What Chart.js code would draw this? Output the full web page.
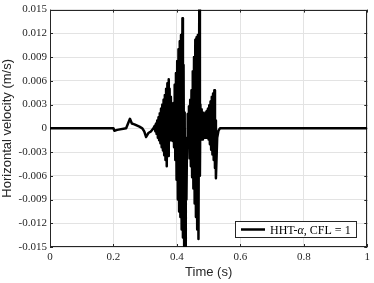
<!DOCTYPE html>
<html>
<head>
<meta charset="utf-8">
<script src="https://cdn.jsdelivr.net/npm/chart.js@4"></script>
<style>
  html, body { margin: 0; padding: 0; background: #fff; }
  #chart { display: block; }
</style>
</head>
<body>
<canvas id="chart" width="374" height="283"></canvas>
<script>
// Data (time in s, velocity in m/s)
const time = [
  0, 0.200, 0.203, 0.212, 0.240, 0.252, 0.258, 0.266, 0.282, 0.291, 0.297, 0.303, 0.310, 0.318, 0.326,
  0.330, 0.332, 0.334, 0.336, 0.338, 0.340, 0.342, 0.344, 0.346, 0.348, 0.350, 0.352, 0.354, 0.356, 0.358,
  0.360, 0.362, 0.364, 0.366, 0.368, 0.370, 0.372, 0.3735, 0.375, 0.377, 0.379, 0.381, 0.383, 0.385, 0.387,
  0.389, 0.391, 0.393, 0.395, 0.397, 0.399, 0.401, 0.403, 0.405, 0.407, 0.409, 0.411, 0.413, 0.415, 0.4175,
  0.419, 0.421, 0.423, 0.4245, 0.426, 0.428, 0.430,
  0.432, 0.434, 0.436, 0.438, 0.440, 0.442, 0.444, 0.446, 0.448, 0.450, 0.452, 0.454, 0.456, 0.458, 0.460,
  0.462, 0.464, 0.466, 0.468, 0.4705, 0.4725, 0.474,
  0.476, 0.478, 0.480, 0.482, 0.484, 0.486, 0.488, 0.490, 0.492, 0.494, 0.496, 0.498, 0.500, 0.502, 0.504,
  0.506, 0.508, 0.510, 0.512, 0.514, 0.516, 0.518, 0.520, 0.5215, 0.523, 0.527, 0.531, 0.536, 1.0
];
const velocity = [
  0, 0, -0.0003, -0.0002, 0, 0.0012, 0.0006, 0.0005, 0.0002, 0, -0.0004, -0.0011, -0.0006, -0.0004, 0,
  0.0003, -0.0004, 0.0006, -0.0007, 0.0010, -0.0012, 0.0014, -0.0015, 0.0019, -0.0019, 0.0025, -0.0024, 0.0030, -0.0028, 0.0036,
  -0.0034, 0.0042, -0.0040, 0.0050, -0.0048, 0.0057, -0.0035, 0.0062, -0.0025, 0.0050, -0.0015, 0.0040, -0.0012, 0.0024, -0.0016,
  0.0032, -0.0024, 0.0055, -0.0040, 0.0070, -0.0065, 0.0085, -0.0090, 0.0100, -0.0105, 0.0110, -0.0112, 0.0118, -0.0128, 0.0139,
  -0.0138, 0.0080, -0.0155, 0.0020, -0.0170, -0.0030, -0.0090,
  -0.0012, 0.0018, -0.0020, 0.0028, -0.0038, 0.0036, -0.0048, 0.0048, -0.0062, 0.0072, -0.0076, 0.0090, -0.0095, 0.0112, -0.0112,
  0.0115, -0.0128, 0.0118, -0.0140, 0.0152, -0.0060, 0.0030,
  -0.0012, 0.0024, -0.0014, 0.0020, -0.0012, 0.0018, -0.0012, 0.0020, -0.0012, 0.0022, -0.0012, 0.0025, -0.0014, 0.0029, -0.0020,
  0.0034, -0.0027, 0.0040, -0.0033, 0.0044, -0.0040, 0.0048, -0.0050, 0.0010, -0.0063, -0.0012, -0.0003, 0, 0
];

const xTicks = [0, 0.2, 0.4, 0.6, 0.8, 1];
const xTickLabels = ['0', '0.2', '0.4', '0.6', '0.8', '1'];
const yTicks = [-0.015, -0.012, -0.009, -0.006, -0.003, 0, 0.003, 0.006, 0.009, 0.012, 0.015];
const yTickLabels = ['-0.015', '-0.012', '-0.009', '-0.006', '-0.003', '0', '0.003', '0.006', '0.009', '0.012', '0.015'];
const seriesLabel = 'HHT-α, CFL = 1';

const AXIS_COLOR = '#262626';
const GRID_COLOR = '#e3e3e3';

// Box around plot, inward tick marks and the boxed legend in the lower right
const framePlugin = {
  id: 'frame',
  beforeDatasetsDraw(chart) {
    const { ctx, chartArea: a, scales } = chart;
    ctx.save();
    ctx.strokeStyle = AXIS_COLOR;
    ctx.lineWidth = 1;
    ctx.beginPath();
    scales.x.ticks.forEach(t => {
      const px = Math.round(scales.x.getPixelForValue(t.value)) + 0.5;
      ctx.moveTo(px, a.bottom); ctx.lineTo(px, a.bottom - 3);
      ctx.moveTo(px, a.top); ctx.lineTo(px, a.top + 3);
    });
    scales.y.ticks.forEach(t => {
      const py = Math.round(scales.y.getPixelForValue(t.value)) + 0.5;
      ctx.moveTo(a.left, py); ctx.lineTo(a.left + 3, py);
      ctx.moveTo(a.right, py); ctx.lineTo(a.right - 3, py);
    });
    ctx.stroke();
    ctx.strokeRect(Math.round(a.left) + 0.5, Math.round(a.top) + 0.5,
      Math.round(a.right - a.left) - 1, Math.round(a.bottom - a.top) - 1);
    ctx.restore();
  },
  afterDraw(chart) {
    const { ctx, chartArea: a } = chart;
    const label = chart.data.datasets[0].label;
    const parts = label.split('α');
    const font = '12px "Liberation Serif"';
    const italic = 'italic 12px "Liberation Serif"';
    ctx.save();
    ctx.font = font;
    const w0 = ctx.measureText(parts[0]).width;
    const w2 = ctx.measureText(parts[1]).width;
    ctx.font = italic;
    const w1 = ctx.measureText('α').width;
    const textW = w0 + w1 + w2;
    const boxW = 6 + 24 + 5 + textW + 5;
    const boxH = 16;
    const x1 = Math.round(a.right - 12 - boxW);
    const y1 = Math.round(a.bottom - 10 - boxH);
    ctx.fillStyle = '#fff';
    ctx.fillRect(x1, y1, boxW, boxH);
    ctx.strokeStyle = AXIS_COLOR;
    ctx.lineWidth = 1;
    ctx.strokeRect(x1 + 0.5, y1 + 0.5, Math.round(boxW), boxH);
    const cy = y1 + boxH / 2 + 0.5;
    ctx.strokeStyle = '#000';
    ctx.lineWidth = 2.5;
    ctx.beginPath();
    ctx.moveTo(x1 + 6, cy); ctx.lineTo(x1 + 30, cy);
    ctx.stroke();
    ctx.fillStyle = '#000';
    ctx.textBaseline = 'middle';
    let tx = x1 + 35;
    ctx.font = font;
    ctx.fillText(parts[0], tx, cy + 1); tx += w0;
    ctx.font = italic;
    ctx.fillText('α', tx, cy + 1); tx += w1;
    ctx.font = font;
    ctx.fillText(parts[1], tx, cy + 1);
    ctx.restore();
  }
};

Chart.defaults.font.family = '"Liberation Serif"';
Chart.defaults.font.size = 11;
Chart.defaults.color = AXIS_COLOR;

new Chart(document.getElementById('chart').getContext('2d'), {
  type: 'line',
  data: {
    datasets: [{
      label: seriesLabel,
      data: time.map((t, i) => ({ x: t, y: velocity[i] })),
      borderColor: '#000',
      borderWidth: 2.5,
      borderJoinStyle: 'round',
      pointRadius: 0,
      tension: 0,
      fill: false
    }]
  },
  options: {
    responsive: false,
    animation: false,
    layout: { padding: { top: 6, right: 2, left: 0, bottom: 0 } },
    plugins: {
      legend: { display: false },
      tooltip: { enabled: false }
    },
    scales: {
      x: {
        type: 'linear',
        min: 0,
        max: 1,
        afterBuildTicks: s => { s.ticks = xTicks.map(v => ({ value: v })); },
        afterFit: s => { s.height = 36; },
        ticks: {
          callback: (v, i) => xTickLabels[i],
          padding: 4,
          maxRotation: 0,
          autoSkip: false
        },
        grid: { color: GRID_COLOR, drawTicks: false },
        border: { display: false },
        title: {
          display: true,
          text: 'Time (s)',
          color: AXIS_COLOR,
          font: { family: '"Liberation Sans"', size: 13 },
          padding: { top: 0, bottom: 3 }
        }
      },
      y: {
        type: 'linear',
        min: -0.015,
        max: 0.015,
        afterBuildTicks: s => { s.ticks = yTicks.map(v => ({ value: v })); },
        afterFit: s => { s.width = 50; },
        ticks: {
          callback: (v, i) => yTickLabels[i],
          padding: 3,
          autoSkip: false
        },
        grid: { color: GRID_COLOR, drawTicks: false },
        border: { display: false },
        title: {
          display: true,
          text: 'Horizontal velocity (m/s)',
          color: AXIS_COLOR,
          font: { family: '"Liberation Sans"', size: 13 },
          padding: { top: 0, bottom: 0 }
        }
      }
    }
  },
  plugins: [framePlugin]
});
</script>
</body>
</html>
